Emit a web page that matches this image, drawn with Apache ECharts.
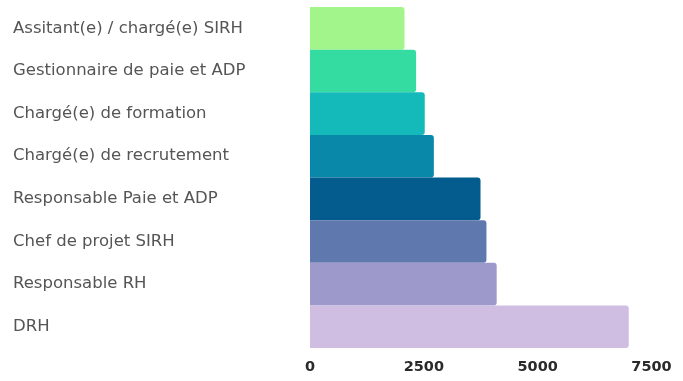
<!DOCTYPE html>
<html>
<head>
<meta charset="utf-8">
<script src="https://cdn.jsdelivr.net/npm/echarts@6/dist/echarts.min.js"></script>
<style>
  html, body { margin: 0; padding: 0; background: #ffffff; }
  #chart { width: 683px; height: 381px; }
</style>
</head>
<body>
<div id="chart"></div>
<script>
// Job titles, top to bottom
const categories = [
  'Assitant(e) / chargé(e) SIRH',
  'Gestionnaire de paie et ADP',
  'Chargé(e) de formation',
  'Chargé(e) de recrutement',
  'Responsable Paie et ADP',
  'Chef de projet SIRH',
  'Responsable RH',
  'DRH'
];
// Value per job title
const values = [2075, 2330, 2520, 2720, 3745, 3875, 4100, 7000];
// Fill colour per bar
const barColors = ['#a2f58b', '#34dca1', '#14b9b9', '#0a88a9', '#045b8e', '#5f78ad', '#9d99cb', '#d0bde2'];
// Value axis ticks
const xTicks = [0, 2500, 5000, 7500];

const chart = echarts.init(document.getElementById('chart'));
chart.setOption({
  animation: false,
  grid: { left: 310, right: 31.5, top: 7, bottom: 33 },
  xAxis: {
    type: 'value',
    min: xTicks[0],
    max: xTicks[xTicks.length - 1],
    interval: xTicks[1] - xTicks[0],
    axisLine: { show: false },
    axisTick: { show: false },
    splitLine: { show: false },
    axisLabel: {
      color: '#2a2a2a',
      fontFamily: 'DejaVu Sans',
      fontWeight: 'bold',
      fontSize: 14.5,
      margin: 12,
      formatter: v => String(v)
    }
  },
  yAxis: {
    type: 'category',
    data: categories,
    inverse: true,
    axisLine: { show: false },
    axisTick: { show: false },
    axisLabel: {
      align: 'left',
      margin: 297,
      color: '#555555',
      fontFamily: 'DejaVu Sans',
      fontSize: 16.5,
      padding: [3, 0, 0, 0]
    }
  },
  series: [{
    type: 'bar',
    barCategoryGap: 0,
    data: values.map((v, i) => ({ value: v, itemStyle: { color: barColors[i] } })),
    itemStyle: { borderRadius: [0, 3, 3, 0] }
  }]
});
</script>
</body>
</html>
